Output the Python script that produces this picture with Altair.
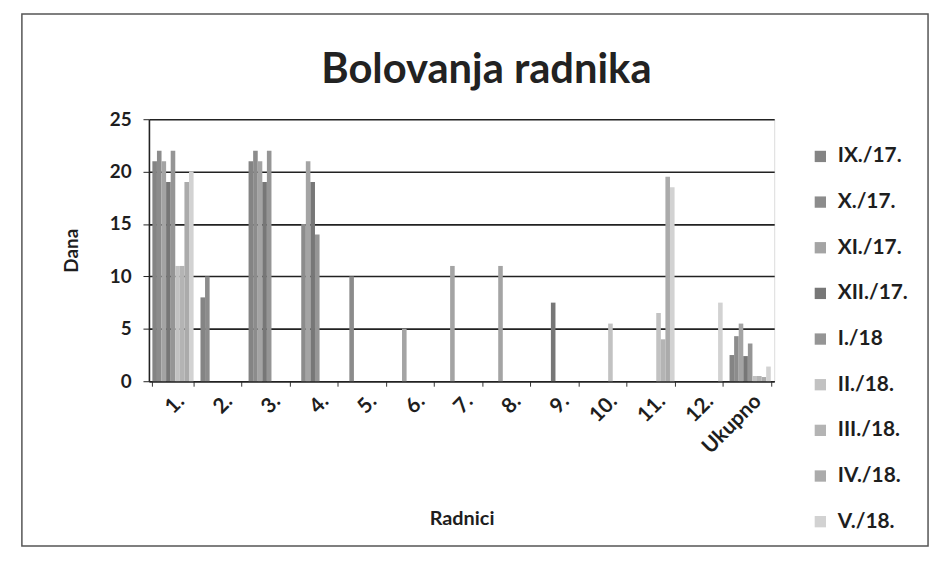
import altair as alt
import pandas as pd

radnici = ["1.", "2.", "3.", "4.", "5.", "6.", "7.", "8.", "9.", "10.", "11.", "12.", "Ukupno"]
mjeseci = ["IX./17.", "X./17.", "XI./17.", "XII./17.", "I./18", "II./18.", "III./18.", "IV./18.", "V./18."]
naslov = ["Bolovanja radnika"]

ix_17 = [21, 8, 21, 0, 0, 0, 0, 0, 0, 0, 0, 0, 2.5]
x_17 = [22, 10, 22, 15, 10, 0, 0, 0, 0, 0, 0, 0, 4.3]
xi_17 = [21, 0, 21, 21, 0, 5, 11, 11, 0, 0, 0, 0, 5.5]
xii_17 = [19, 0, 19, 19, 0, 0, 0, 0, 7.5, 0, 0, 0, 2.4]
i_18 = [22, 0, 22, 14, 0, 0, 0, 0, 0, 0, 0, 0, 3.6]
ii_18 = [11, 0, 0, 0, 0, 0, 0, 0, 0, 5.5, 6.5, 0, 0.5]
iii_18 = [11, 0, 0, 0, 0, 0, 0, 0, 0, 0, 4, 0, 0.5]
iv_18 = [19, 0, 0, 0, 0, 0, 0, 0, 0, 0, 19.5, 0, 0.4]
v_18 = [20, 0, 0, 0, 0, 0, 0, 0, 0, 0, 18.5, 7.5, 1.4]

series = [ix_17, x_17, xi_17, xii_17, i_18, ii_18, iii_18, iv_18, v_18]
colors = ["#848484", "#8c8c8c", "#a4a4a4", "#777777", "#959595",
          "#c2c2c2", "#b4b4b4", "#ababab", "#d2d2d2"]

rows = []
for m, vals in zip(mjeseci, series):
    for r, v in zip(radnici, vals):
        rows.append({"Radnik": r, "Mjesec": m, "Dana": v})
df = pd.DataFrame(rows)

FONT = "Lato"
TXT = "#1e1e1e"

bars = alt.Chart(df).mark_bar().encode(
    x=alt.X("Radnik:N", sort=radnici,
            scale=alt.Scale(paddingInner=0.143, paddingOuter=0.0715),
            axis=alt.Axis(title="Radnici", labelAngle=-45, labelFontSize=21,
                          labelFont=FONT, labelFontWeight="bold", labelColor=TXT,
                          titleFont=FONT, titleFontSize=20, titleFontWeight="bold",
                          titleColor=TXT, titlePadding=52, labelPadding=4,
                          tickBand="extent", tickSize=5, tickColor="#333",
                          domainColor="#222", domainWidth=1.6, grid=False)),
    xOffset=alt.XOffset("Mjesec:N", sort=mjeseci,
                        scale=alt.Scale(paddingInner=0, paddingOuter=0)),
    y=alt.Y("Dana:Q", scale=alt.Scale(domain=[0, 25]),
            axis=alt.Axis(title="Dana", values=[0, 5, 10, 15, 20, 25],
                          labelFontSize=19, labelFont=FONT, labelFontWeight="bold",
                          labelColor=TXT, labelPadding=12, tickSize=6,
                          tickColor="#222", domainColor="#222", domainWidth=1.6,
                          gridColor="#222", gridWidth=1.6,
                          titleFont=FONT, titleFontSize=19, titleFontWeight="bold",
                          titleColor=TXT, titlePadding=28)),
    color=alt.Color("Mjesec:N", sort=mjeseci,
                    scale=alt.Scale(domain=mjeseci, range=colors),
                    legend=alt.Legend(title=None, orient="none", legendX=666,
                                      legendY=27, symbolType="square",
                                      symbolSize=130, symbolStrokeWidth=0,
                                      labelFont=FONT, labelFontSize=21,
                                      labelFontWeight="bold",
                                      labelColor=TXT, rowPadding=24,
                                      labelOffset=7)),
)

frame = alt.Chart(pd.DataFrame({"a": [0]})).mark_rect(
    fill="transparent", stroke="#555", strokeWidth=1.5
).encode(x=alt.value(-128), x2=alt.value(785), y=alt.value(-106), y2=alt.value(430))

title = alt.Chart(pd.DataFrame({"t": naslov})).mark_text(
    font=FONT, fontSize=42, fontWeight="bold", color="#222",
    align="center", baseline="alphabetic"
).encode(text="t:N", x=alt.value(340), y=alt.value(-36))

chart = alt.layer(frame, bars, title).properties(
    width=630, height=264,
    autosize=alt.AutoSizeParams(type="none"),
    padding={"left": 142, "top": 110, "right": 160, "bottom": 170},
).configure_view(stroke=None).configure(background="white")

chart.save("out.html", embed_options={"renderer": "svg", "actions": False})
